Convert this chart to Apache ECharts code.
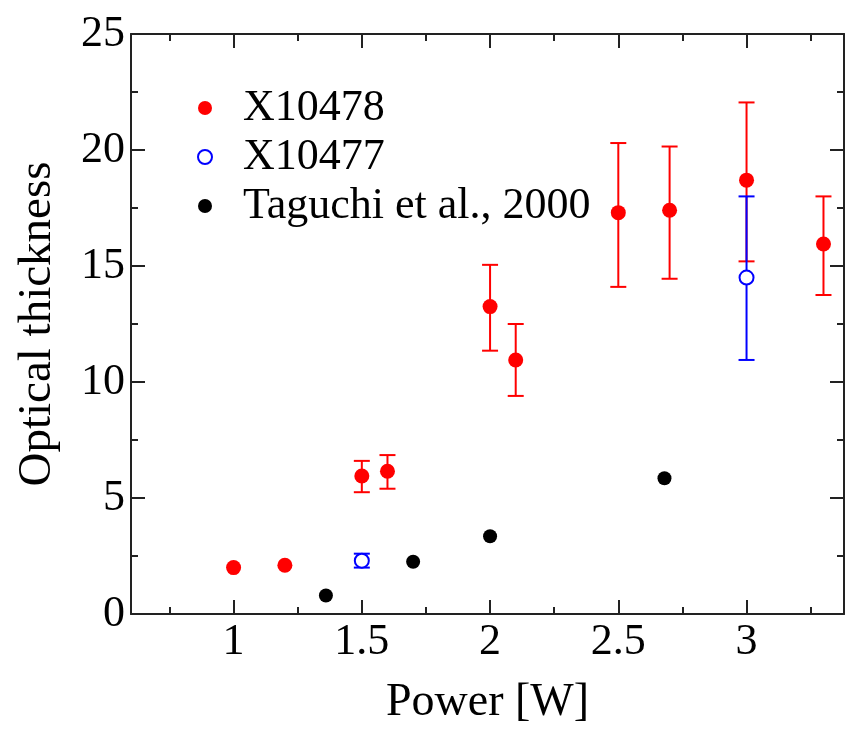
<!DOCTYPE html>
<html>
<head>
<meta charset="utf-8">
<script src="https://cdn.jsdelivr.net/npm/echarts@6/dist/echarts.min.js"></script>
<style>html,body{margin:0;padding:0;background:#fff}#c{width:846px;height:731px}</style>
</head>
<body>
<div id="c"></div>
<script>
// ---- data ----
var seriesNames = ['X10478', 'X10477', 'Taguchi et al., 2000'];
var redX  = [1.0, 1.2, 1.5, 1.6, 2.0, 2.1, 2.5, 2.7, 3.0, 3.3];
var redY  = [2.0, 2.1, 5.95, 6.15, 13.25, 10.95, 17.3, 17.4, 18.7, 15.95];
var redLo = [null, null, 5.25, 5.4, 11.35, 9.4, 14.1, 14.45, 15.2, 13.75];
var redHi = [null, null, 6.6, 6.85, 15.05, 12.5, 20.3, 20.15, 22.05, 18.0];
var blueX  = [1.5, 3.0];
var blueY  = [2.3, 14.5];
var blueLo = [2.0, 10.95];
var blueHi = [2.6, 18.0];
var blackX = [1.36, 1.7, 2.0, 2.68];
var blackY = [0.8, 2.25, 3.35, 5.85];
var xMajor = [1, 1.5, 2, 2.5, 3];
var xTickLabels = ['1', '1.5', '2', '2.5', '3'];
var xMinor = [0.75, 1.25, 1.75, 2.25, 2.75, 3.25];
var yMajor = [0, 5, 10, 15, 20, 25];
var yTickLabels = ['0', '5', '10', '15', '20', '25'];
var yMinor = [2.5, 7.5, 12.5, 17.5, 22.5];
var xName = 'Power [W]';
var yName = 'Optical thickness';

// ---- chart ----
var FONT = 'Liberation Serif';
var chart = echarts.init(document.getElementById('c'), null, {renderer: 'canvas'});
function pairs(xs, ys) { return xs.map(function (x, i) { return [x, ys[i]]; }); }
function errData(xs, lo, hi) {
  var out = [];
  xs.forEach(function (x, i) { if (lo[i] != null) out.push([x, lo[i], hi[i]]); });
  return out;
}
function errSeries(data, color) {
  return {
    type: 'custom', xAxisIndex: 0, yAxisIndex: 0, silent: true,
    data: data,
    renderItem: function (params, api) {
      var x = api.value(0), lo = api.value(1), hi = api.value(2);
      var a = api.coord([x, lo]), b = api.coord([x, hi]);
      var hw = 8, st = {stroke: color, lineWidth: 2};
      return {type: 'group', children: [
        {type: 'line', shape: {x1: a[0], y1: a[1], x2: b[0], y2: b[1]}, style: st},
        {type: 'line', shape: {x1: b[0] - hw, y1: b[1], x2: b[0] + hw, y2: b[1]}, style: st},
        {type: 'line', shape: {x1: a[0] - hw, y1: a[1], x2: a[0] + hw, y2: a[1]}, style: st}
      ]};
    },
    z: 2
  };
}
var lineSt = {color: '#222', width: 2};
function xAx(pos, vals, len, showLine, labels) {
  return {
    type: 'value', position: pos, min: 0.6, max: 3.38,
    axisLine: {show: showLine, onZero: false, lineStyle: lineSt},
    axisTick: {show: true, inside: true, length: len, customValues: vals, lineStyle: lineSt},
    axisLabel: labels ? {show: true, customValues: xMajor, margin: 6, fontFamily: FONT, fontSize: 44, color: '#000',
      formatter: function (v) { var i = xMajor.indexOf(v); return i >= 0 ? xTickLabels[i] : ''; }} : {show: false},
    splitLine: {show: false}
  };
}
function yAx(pos, vals, len, showLine, labels) {
  return {
    type: 'value', position: pos, min: 0, max: 25,
    axisLine: {show: showLine, onZero: false, lineStyle: lineSt},
    axisTick: {show: true, inside: true, length: len, customValues: vals, lineStyle: lineSt},
    axisLabel: labels ? {show: true, customValues: yMajor, margin: 6, fontFamily: FONT, fontSize: 44, color: '#000',
      formatter: function (v) { var i = yMajor.indexOf(v); return i >= 0 ? yTickLabels[i] : ''; }} : {show: false},
    splitLine: {show: false}
  };
}
var xs = [xAx('bottom', xMajor, 14, true, true), xAx('bottom', xMinor, 7, false, false),
          xAx('top', xMajor, 14, true, false), xAx('top', xMinor, 7, false, false)];
xs[0].name = xName; xs[0].nameLocation = 'middle'; xs[0].nameGap = 66;
xs[0].nameTextStyle = {fontFamily: FONT, fontSize: 46, color: '#000'};
var ys = [yAx('left', yMajor, 14, true, true), yAx('left', yMinor, 7, false, false),
          yAx('right', yMajor, 14, true, false), yAx('right', yMinor, 7, false, false)];
ys[0].name = yName; ys[0].nameLocation = 'middle'; ys[0].nameGap = 70;
ys[0].nameTextStyle = {fontFamily: FONT, fontSize: 47, color: '#000'};

chart.setOption({
  animation: false,
  backgroundColor: '#fff',
  grid: {left: 131, right: 2, top: 34, bottom: 116, containLabel: false},
  xAxis: xs,
  yAxis: ys,
  legend: {
    orient: 'vertical', left: 192, top: 81, itemGap: 5,
    itemWidth: 14, itemHeight: 14,
    textStyle: {fontFamily: FONT, fontSize: 44, lineHeight: 44, color: '#000', padding: [0, 0, 0, 26]},
    data: [
      {name: seriesNames[0], icon: 'circle'},
      {name: seriesNames[1], icon: 'emptyCircle', itemStyle: {color: '#0000ff', borderColor: '#0000ff', borderWidth: 2}},
      {name: seriesNames[2], icon: 'circle'}
    ]
  },
  series: [
    errSeries(errData(redX, redLo, redHi), '#ff0000'),
    errSeries(errData(blueX, blueLo, blueHi), '#0000ff'),
    {name: seriesNames[0], type: 'scatter', xAxisIndex: 0, yAxisIndex: 0, symbol: 'circle', symbolSize: 15,
      itemStyle: {color: '#ff0000', opacity: 1}, data: pairs(redX, redY), z: 3},
    {name: seriesNames[1], type: 'scatter', xAxisIndex: 0, yAxisIndex: 0, symbol: 'emptyCircle', symbolSize: 14,
      itemStyle: {color: '#0000ff', borderColor: '#0000ff', borderWidth: 2, opacity: 1}, data: pairs(blueX, blueY), z: 3},
    {name: seriesNames[2], type: 'scatter', xAxisIndex: 0, yAxisIndex: 0, symbol: 'circle', symbolSize: 14,
      itemStyle: {color: '#000', opacity: 1}, data: pairs(blackX, blackY), z: 3}
  ]
});
</script>
</body>
</html>
